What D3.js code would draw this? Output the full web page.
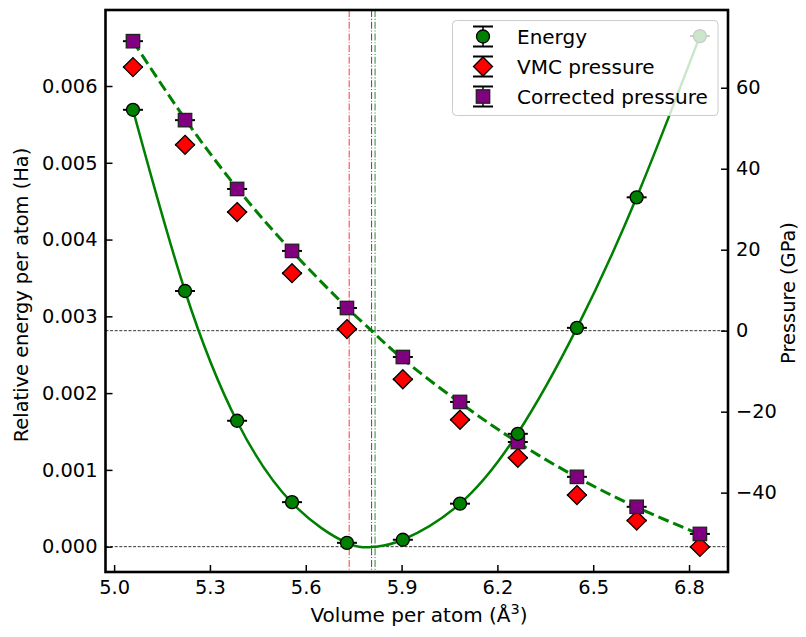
<!DOCTYPE html>
<html>
<head>
<meta charset="utf-8">
<script src="https://cdn.jsdelivr.net/npm/d3@7"></script>
<style>
  body { margin: 0; background: #fff; }
  svg text { font-family: "DejaVu Sans", sans-serif; fill: #000; }
</style>
</head>
<body>
<div id="chart"></div>
<script>
// values
var volume = [5.059, 5.222, 5.385, 5.557, 5.729, 5.904, 6.083, 6.264, 6.449, 6.636, 6.834];
var energy = [0.00569, 0.00333, 0.00164, 0.00058, 0.00005, 0.00009, 0.00056, 0.00147, 0.00285, 0.00455, 0.00665];
var vmcPressure = [65.1, 45.9, 29.3, 14.2, 0.4, -12.0, -22.0, -31.4, -40.6, -46.9, -53.4];
var corrPressure = [71.5, 52.0, 35.0, 19.7, 5.6, -6.5, -17.6, -27.5, -36.1, -43.5, -50.2];

// fitted curves as seen in the picture
var fitVolE = [5.059, 5.222, 5.385, 5.557, 5.729, 5.817, 5.904, 6.083, 6.264, 6.449, 6.636, 6.834];
var fitEnergy = [0.00569, 0.00333, 0.00163, 0.00057, 0.00005, 0.0, 0.00009, 0.00056, 0.00148, 0.00285, 0.00455, 0.00665];
var fitVolP = [5.059, 5.222, 5.385, 5.557, 5.729, 5.806, 5.904, 6.083, 6.264, 6.449, 6.636, 6.834];
var fitPressure = [71.5, 52.3, 35.2, 19.6, 5.7, 0.0, -7.0, -17.8, -27.6, -36.2, -43.6, -50.3];

var zeroLines = [
  { v: 5.736, color: "#ff2020" },
  { v: 5.806, color: "#800080" },
  { v: 5.817, color: "#008000" }
];

var xTicks = [5.0, 5.3, 5.6, 5.9, 6.2, 6.5, 6.8];
var yTicks = [0, 0.001, 0.002, 0.003, 0.004, 0.005, 0.006];
var pTicks = [-40, -20, 0, 20, 40, 60];

var W = 806, H = 637;
var padL = 105.5, padR = 728, padT = 10, padB = 572;

var svg = d3.select("#chart").append("svg").attr("width", W).attr("height", H);

var x = d3.scaleLinear().domain([4.973, 6.922]).range([padL, padR]);
var y = d3.scaleLinear().domain([-0.00033, 0.00699]).range([padB, padT]);
var yp = d3.scaleLinear().domain([-59.6, 79.2]).range([padB, padT]);

var plot = svg.append("g");

// horizontal zero lines
plot.append("line").attr("x1", padL).attr("x2", padR)
  .attr("y1", y(0)).attr("y2", y(0))
  .attr("stroke", "#000").attr("stroke-width", 0.8).attr("stroke-dasharray", "3,1.6");
plot.append("line").attr("x1", padL).attr("x2", padR)
  .attr("y1", yp(0)).attr("y2", yp(0))
  .attr("stroke", "#000").attr("stroke-width", 0.8).attr("stroke-dasharray", "3,1.6");

// vertical lines where things cross zero
plot.selectAll(".vline").data(zeroLines).enter().append("line")
  .attr("x1", function(d) { return x(d.v); })
  .attr("x2", function(d) { return x(d.v); })
  .attr("y1", padT).attr("y2", padB)
  .attr("stroke", function(d) { return d.color; })
  .attr("stroke-opacity", 0.8)
  .attr("stroke-width", 1.1)
  .attr("stroke-dasharray", "7,1.8,1.1,1.8");

// fits
var eLine = d3.line().x(function(d, i) { return x(fitVolE[i]); })
  .y(function(d) { return y(d); }).curve(d3.curveNatural);
plot.append("path").datum(fitEnergy).attr("d", eLine)
  .attr("fill", "none").attr("stroke", "#008000").attr("stroke-width", 2.5);

var pLine = d3.line().x(function(d, i) { return x(fitVolP[i]); })
  .y(function(d) { return yp(d); }).curve(d3.curveNatural);
plot.append("path").datum(fitPressure).attr("d", pLine)
  .attr("fill", "none").attr("stroke", "#008000").attr("stroke-width", 3)
  .attr("stroke-dasharray", "11,5");

// markers
var capHalf = 10;
function caps(g, cx, cy) {
  g.append("line").attr("x1", cx - capHalf).attr("x2", cx + capHalf)
    .attr("y1", cy).attr("y2", cy).attr("stroke", "#000").attr("stroke-width", 2);
}
function circleMark(g, cx, cy) {
  g.append("circle").attr("cx", cx).attr("cy", cy).attr("r", 6.5)
    .attr("fill", "#008000").attr("stroke", "#000").attr("stroke-width", 1.3);
}
function diamondMark(g, cx, cy) {
  var s = 9.5;
  g.append("path").attr("d", "M" + cx + "," + (cy - s) + "L" + (cx + s) + "," + cy +
      "L" + cx + "," + (cy + s) + "L" + (cx - s) + "," + cy + "Z")
    .attr("fill", "#ff0000").attr("stroke", "#000").attr("stroke-width", 1.3);
}
function squareMark(g, cx, cy) {
  var s = 6.7;
  g.append("rect").attr("x", cx - s).attr("y", cy - s).attr("width", 2 * s).attr("height", 2 * s)
    .attr("fill", "#800080").attr("stroke", "#222").attr("stroke-width", 1.3);
}

var marks = plot.append("g");
volume.forEach(function(v, i) {
  caps(marks, x(v), yp(vmcPressure[i]));
  diamondMark(marks, x(v), yp(vmcPressure[i]));
});
volume.forEach(function(v, i) {
  caps(marks, x(v), yp(corrPressure[i]));
  squareMark(marks, x(v), yp(corrPressure[i]));
});
volume.forEach(function(v, i) {
  caps(marks, x(v), y(energy[i]));
  circleMark(marks, x(v), y(energy[i]));
});

// axes
var fs = "19.4px";
var xAxis = svg.append("g").attr("transform", "translate(0," + padB + ")")
  .call(d3.axisBottom(x).tickValues(xTicks).tickSize(-7).tickPadding(8).tickFormat(d3.format(".1f")));
var yAxis = svg.append("g").attr("transform", "translate(" + padL + ",0)")
  .call(d3.axisLeft(y).tickValues(yTicks).tickSize(-7).tickPadding(8).tickFormat(d3.format(".3f")));
var pAxis = svg.append("g").attr("transform", "translate(" + padR + ",0)")
  .call(d3.axisRight(yp).tickValues(pTicks).tickSize(-7).tickPadding(8)
    .tickFormat(function(d) { return d < 0 ? "\u2212" + Math.abs(d) : d; }));
[xAxis, yAxis, pAxis].forEach(function(a) {
  a.select(".domain").remove();
  a.selectAll(".tick line").attr("stroke", "#000").attr("stroke-width", 1.5);
  a.selectAll(".tick text").style("font-size", fs);
  a.attr("font-family", null).attr("font-size", null);
});

// frame
svg.append("rect").attr("x", padL).attr("y", padT)
  .attr("width", padR - padL).attr("height", padB - padT)
  .attr("fill", "none").attr("stroke", "#000").attr("stroke-width", 2.6);

// axis labels
var xl = svg.append("text").attr("x", 419).attr("y", 622)
  .attr("text-anchor", "middle").style("font-size", "20px");
xl.append("tspan").text("Volume per atom (\u00c5");
xl.append("tspan").text("3").style("font-size", "14.5px").attr("dy", -8);
xl.append("tspan").text(")").attr("dy", 8);

svg.append("text").attr("transform", "translate(28,295) rotate(-90)")
  .attr("text-anchor", "middle").style("font-size", fs)
  .text("Relative energy per atom (Ha)");
svg.append("text").attr("transform", "translate(795,293) rotate(-90)")
  .attr("text-anchor", "middle").style("font-size", fs)
  .text("Pressure (GPa)");

// legend
var legendItems = [
  { label: "Energy", mark: circleMark },
  { label: "VMC pressure", mark: diamondMark },
  { label: "Corrected pressure", mark: squareMark }
];
var lg = svg.append("g");
lg.append("rect").attr("x", 452.5).attr("y", 20.5).attr("width", 265.5).attr("height", 95)
  .attr("rx", 4).attr("fill", "#fff").attr("fill-opacity", 0.8)
  .attr("stroke", "#cccccc").attr("stroke-width", 1);
legendItems.forEach(function(it, i) {
  var cy = 36.5 + i * 30, cx = 483;
  lg.append("line").attr("x1", cx).attr("x2", cx).attr("y1", cy - 10).attr("y2", cy + 10)
    .attr("stroke", "#000").attr("stroke-width", 1.5);
  caps(lg, cx, cy - 10);
  caps(lg, cx, cy + 10);
  it.mark(lg, cx, cy);
  lg.append("text").attr("x", 517).attr("y", cy).attr("dy", "0.35em")
    .style("font-size", "20px").text(it.label);
});
</script>
</body>
</html>
